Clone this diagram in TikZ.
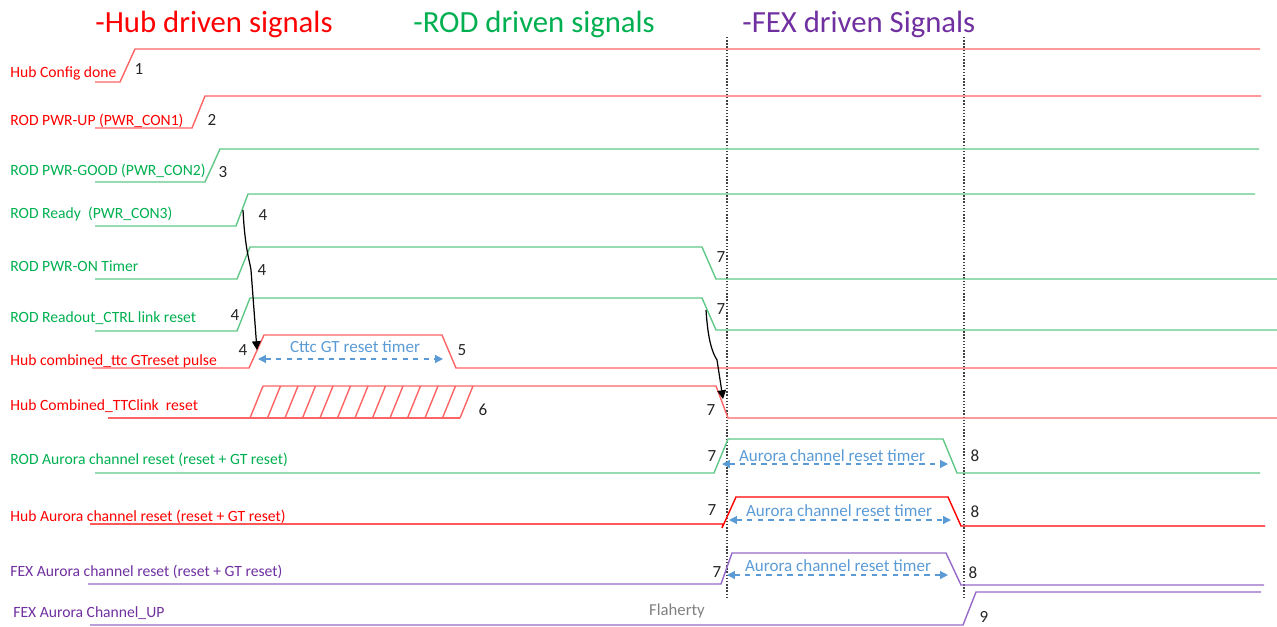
\documentclass[tikz,border=0pt]{standalone}
\usepackage{fontspec}
\setmainfont{Carlito}
\usetikzlibrary{arrows.meta}

\definecolor{hubline}{RGB}{255,100,100}
\definecolor{hubtext}{RGB}{255,0,0}
\definecolor{rodline}{RGB}{95,200,135}
\definecolor{rodtext}{RGB}{0,176,80}
\definecolor{fexline}{RGB}{150,105,200}
\definecolor{fextext}{RGB}{112,48,160}
\definecolor{timerblue}{RGB}{91,155,213}

\tikzset{
  hubsig/.style={draw=hubline, line width=0.8pt},
  rodsig/.style={draw=rodline, line width=0.8pt},
  fexsig/.style={draw=fexline, line width=0.8pt},
  siglabel/.style={anchor=base west, inner sep=0pt, font=\fontsize{8.9}{10}\selectfont},
  title/.style={anchor=base west, inner sep=0pt, font=\fontsize{17.5}{20}\selectfont},
  stepnum/.style={anchor=base, inner sep=0pt, text=black!85, font=\fontsize{9.7}{11}\selectfont},
  timertext/.style={anchor=base, inner sep=0pt, text=timerblue, font=\fontsize{9.7}{11}\selectfont},
  timer/.style={draw=timerblue, dashed, line width=0.7pt, {Triangle[width=4.5pt,length=4.5pt]}-{Triangle[width=4.5pt,length=4.5pt]}},
  cause/.style={draw=black, line width=0.7pt, -{Triangle[width=5pt,length=5pt]}},
  phase/.style={draw=black!75, densely dotted, line width=0.8pt}
}

\begin{document}
\begin{tikzpicture}[x=0.02cm, y=-0.02cm]
        \useasboundingbox (0,0) rectangle (1277,626);

        % Titles
        \node[title, text=hubtext] (thub) at (95,32) {-Hub driven signals};
        \node[title, text=rodtext] (trod) at (413,32) {-ROD driven signals};
        \node[title, text=fextext] (tfex) at (742,32) {-FEX driven Signals};

        % Phase boundaries
        \draw[phase] (727,37) -- (727,598);
        \draw[phase] (964,37) -- (964,598);

        % Signal names
        \node[siglabel, text=hubtext] (lcfg) at (10,77) {Hub Config done};
        \node[siglabel, text=hubtext] (lpup) at (10,125) {ROD PWR-UP (PWR\_CON1)};
        \node[siglabel, text=rodtext] (lpgd) at (10,175) {ROD PWR-GOOD (PWR\_CON2)};
        \node[siglabel, text=rodtext] (lrdy) at (10,218) {ROD Ready~~(PWR\_CON3)};
        \node[siglabel, text=rodtext] (ltmr) at (10,271) {ROD PWR-ON Timer};
        \node[siglabel, text=rodtext] (lrol) at (10,322) {ROD Readout\_CTRL link reset};
        \node[siglabel, text=hubtext] (lgtp) at (10,365) {Hub combined\_ttc GTreset pulse};
        \node[siglabel, text=hubtext] (lttc) at (10,410) {Hub Combined\_TTClink~ reset};
        \node[siglabel, text=rodtext] (lrau) at (10,464) {ROD Aurora channel reset (reset + GT reset)};
        \node[siglabel, text=hubtext] (lhau) at (10,521) {Hub Aurora channel reset (reset + GT reset)};
        \node[siglabel, text=fextext] (lfau) at (10,576) {FEX Aurora channel reset (reset + GT reset)};
        \node[siglabel, text=fextext] (lfup) at (13,617) {FEX Aurora Channel\_UP};

        % Waveforms
        \draw[hubsig] (95,82) -- (120,82) -- (135,49) -- (1260,49);
        \draw[hubsig] (95,128) -- (192,128) -- (205,96) -- (1261,96);
        \draw[rodsig] (95,182) -- (205,182) -- (220,149) -- (1259,149);
        \draw[rodsig] (95,226) -- (236,226) -- (248,194) -- (1255,194);
        \draw[rodsig] (95,279) -- (237,279) -- (250,247) -- (702,247) -- (716,279) -- (1277,279);
        \draw[rodsig] (95,331) -- (237,331) -- (250,298) -- (702,298) -- (716,330) -- (1277,330);
        \draw[hubsig] (92,368) -- (249,368) -- (264,335) -- (442,335) -- (456,368) -- (1277,368);
        \draw[hubsig] (108,418) -- (460,418);
        \draw[hubsig] (263,386) -- (716,386) -- (728,418) -- (1277,418);
        \foreach \k in {0,...,12}
          \draw[hubsig] ({250+17.5*\k},418) -- ({263+17.5*\k},386);
        \draw[rodsig] (95,473) -- (714,473) -- (728,439) -- (943,439) -- (957,473) -- (1260,473);
        \draw[hubsig, draw=hubtext] (90,524) -- (723,524) -- (722,528) -- (736,497) -- (948,497) -- (961,526) -- (1265,526);
        \draw[fexsig] (88,584) -- (721,584) -- (732,553) -- (946,553) -- (961,585) -- (1264,585);
        \draw[fexsig] (90,625) -- (963,625) -- (976,592) -- (1261,592);

        % Timers
        \draw[timer] (258,359) -- (443,359);
        \node[timertext] (tgt) at (355,352) {Cttc GT reset timer};
        \draw[timer] (722,464) -- (948,464);
        \node[timertext] (trau) at (832,461) {Aurora channel reset timer};
        \draw[timer] (729,520) -- (951,520);
        \node[timertext] (thau) at (839,516) {Aurora channel reset timer};
        \draw[timer] (727,575) -- (948,575);
        \node[timertext] (tfau) at (838,571) {Aurora channel reset timer};

        % Cause arrows
        \coordinate (rdy) at (243,210);
        \coordinate (gtp) at (257,350);
        \coordinate (rol) at (706,310);
        \coordinate (ttc) at (723,399);
        \draw[cause] (rdy) .. controls (245,250) and (250,262) .. (251,270) -- (gtp);
        \draw[cause] (rol) .. controls (708,340) and (712,352) .. (717,360) -- (ttc);

        % Step numbers
        \node[stepnum] (n1) at (139,74) {1};
        \node[stepnum] (n2) at (212,125) {2};
        \node[stepnum] (n3) at (223,177) {3};
        \node[stepnum] (n4a) at (263,220) {4};
        \node[stepnum] (n4b) at (262,275) {4};
        \node[stepnum] (n4c) at (235,320) {4};
        \node[stepnum] (n4d) at (243,355) {4};
        \node[stepnum] (n5) at (462,355) {5};
        \node[stepnum] (n6) at (483,415) {6};
        \node[stepnum] (n7a) at (721,262) {7};
        \node[stepnum] (n7b) at (721,314) {7};
        \node[stepnum] (n7c) at (711,415) {7};
        \node[stepnum] (n7d) at (712,461) {7};
        \node[stepnum] (n8a) at (975,461) {8};
        \node[stepnum] (n7e) at (712,515) {7};
        \node[stepnum] (n8b) at (975,517) {8};
        \node[stepnum] (n7f) at (717,577) {7};
        \node[stepnum] (n8c) at (973,578) {8};
        \node[stepnum] (n9) at (984,622) {9};

        \node[anchor=base, inner sep=0pt, text=black!50, font=\fontsize{9.5}{11}\selectfont] (author) at (677,615) {Flaherty};
\end{tikzpicture}
\end{document}
